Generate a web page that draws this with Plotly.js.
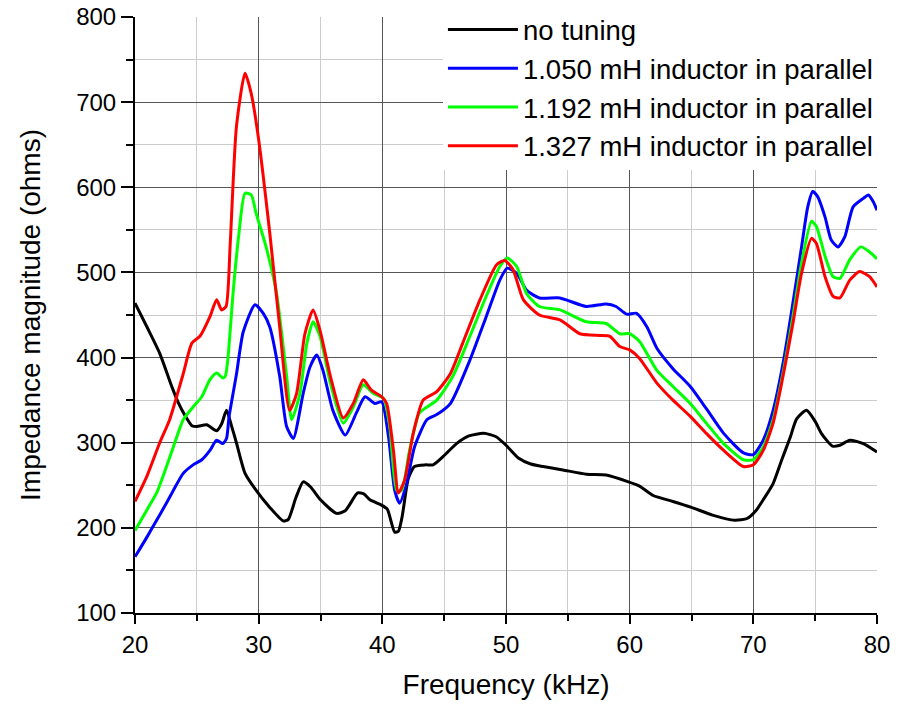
<!DOCTYPE html>
<html>
<head>
<meta charset="utf-8">
<script src="https://cdn.plot.ly/plotly-3.0.1.min.js"></script>
<style>html,body{margin:0;padding:0;background:#fff;}#chart{width:900px;height:708px;}</style>
</head>
<body>
<div id="chart"></div>
<script>
// Frequency (kHz) and impedance magnitude (ohms)
var seriesNames = ["no tuning", "1.050 mH inductor in parallel", "1.192 mH inductor in parallel", "1.327 mH inductor in parallel"];
var seriesColors = ["#000000", "#0000ff", "#00ff00", "#ff0000"];

var freqBlack = [20,21,22,23,23.5,24,24.6,25,25.8,26.6,27.0,27.4,27.8,28.2,28.9,29.8,30.9,32.0,32.4,33.0,33.6,34.2,35.0,36.3,37.0,38.0,38.5,39.0,39.9,40.4,41.0,41.3,41.6,42.1,42.6,43.5,44.1,45.0,46.0,47.0,48.2,49.2,50.0,51.0,52.0,53.0,54.6,56.5,58.1,59.9,60.8,61.9,63.5,65.0,66.7,68.5,69.5,70.2,70.8,71.6,72.3,73.0,73.5,74.3,75.0,75.5,76.4,77.0,77.8,78.9,80];
var zBlack    = [464,435,405,365,347,333,320,319,321,314,322,338,320,300,264,244,224,208,210,235,254,248,233,217,220,241,240,233,227,222,195,196,213,258,272,274,274,285,299,308,311,307,297,282,275,272,268,263,262,254,249,238,231,224,215,209,211,220,233,252,280,307,328,338,325,311,296,297,303,299,289];

var freqBlue = [20,21,21.75,22.5,23.1,23.9,24.7,25.4,26.06,26.6,27.1,27.4,27.6,28.2,28.75,29.7,30.37,30.9,31.7,32.26,32.8,33.6,34.15,34.7,35.2,36.0,37.0,37.9,38.6,39.4,39.95,40.5,41.0,41.4,41.96,42.6,43.6,44.4,45.5,47.08,48.4,49.5,50.1,50.86,51.67,52.7,54.36,56.5,58.1,58.9,59.75,60.56,61.4,62.2,63.5,64.9,66.2,67.6,69.2,70.0,70.8,71.6,72.4,73.2,73.9,74.4,74.8,75.2,75.8,76.3,76.85,77.4,78.07,78.9,79.3,79.7,80];
var zBlue    = [166,190,209,228,244,264,274,280,291,303,299,305,330,380,430,462,452,436,378,319,305,358,389,403,385,338,309,335,354,346,348,307,244,229,252,295,327,333,346,397,448,491,505,499,479,470,470,460,463,460,451,452,436,411,387,366,340,311,288,286,303,338,393,464,530,577,595,589,565,538,530,542,577,587,591,583,573];

var freqGreen = [20,21,21.75,22.5,23.1,23.9,24.7,25.4,26.06,26.6,27.1,27.3,27.5,27.95,28.4,28.9,29.4,29.8,30.6,31.45,32.26,32.67,33.34,33.9,34.4,34.96,35.8,36.84,37.65,38.46,39.26,40.1,40.6,41.16,41.56,42.2,43.0,44.4,45.7,47.08,48.4,49.5,50.1,50.86,51.67,52.7,54.36,56.5,58.1,59.2,60.0,60.8,62.2,63.5,64.9,66.2,67.6,69.2,70.0,70.8,71.6,72.4,73.2,73.9,74.7,75.1,75.8,76.45,77.0,77.8,78.7,79.4,80];
var zGreen    = [197,222,241,270,295,327,342,354,374,382,376,378,397,479,545,593,591,569,530,475,378,327,358,417,442,425,370,323,342,368,358,352,319,244,244,291,335,350,378,425,472,507,517,507,475,460,456,442,440,428,428,419,385,366,346,323,299,280,280,295,327,382,448,511,560,554,519,495,493,515,530,524,516];

var freqRed = [20,21,22,22.8,23.9,24.6,25.25,26.06,26.6,27.0,27.36,27.7,28.2,28.9,29.4,29.97,30.9,31.7,32.5,33.07,33.74,34.4,34.96,35.8,36.84,37.65,38.46,39.1,39.95,40.35,40.9,41.3,41.8,42.5,43.3,44.4,45.5,46.5,47.9,49.24,49.9,50.58,51.4,52.7,54.4,55.97,57.6,58.4,59.2,60.0,60.8,62.2,63.5,64.9,66.2,67.6,69.2,70.0,70.8,71.6,72.4,73.2,73.9,74.7,75.1,75.8,76.45,77.0,77.8,78.6,79.4,80];
var zRed    = [231,262,300,327,381,417,425,448,468,456,460,534,671,734,710,659,546,436,338,358,428,456,432,378,329,346,374,362,354,346,291,241,256,311,350,360,381,417,468,509,514,503,468,450,444,428,426,425,413,409,399,370,350,331,311,291,272,274,291,323,378,440,499,540,534,495,472,470,491,501,495,483];

var xTickVals = [20,30,40,50,60,70,80];
var yTickVals = [100,200,300,400,500,600,700,800];

var freqs = [freqBlack, freqBlue, freqGreen, freqRed];
var zs = [zBlack, zBlue, zGreen, zRed];

var traces = [];
for (var i = 0; i < 4; i++) {
  traces.push({
    x: freqs[i], y: zs[i], type: 'scatter', mode: 'lines', name: seriesNames[i],
    line: {color: seriesColors[i], width: 3, shape: 'spline', smoothing: 0.6}
  });
}

var FONT = 'Liberation Sans, Arial, sans-serif';
var layout = {
  width: 900, height: 708,
  margin: {l: 135, r: 23, t: 17, b: 95, pad: 0, autoexpand: false},
  paper_bgcolor: '#ffffff', plot_bgcolor: '#ffffff',
  font: {family: FONT, color: '#000000', size: 24},
  showlegend: true,
  legend: {
    x: 0.415, y: 1.02, xanchor: 'left', yanchor: 'top',
    bgcolor: '#ffffff', borderwidth: 0,
    font: {family: FONT, size: 27.5, color: '#000000'},
    itemwidth: 70, tracegroupgap: 0
  },
  xaxis: {
    range: [20, 80], tickmode: 'array', tickvals: xTickVals, automargin: false,
    showline: true, linecolor: '#000000', linewidth: 2,
    ticks: 'outside', ticklen: 9, tickwidth: 2, tickcolor: '#000000',
    showgrid: true, gridcolor: '#555555', gridwidth: 1, zeroline: false,
    tickfont: {family: FONT, size: 24, color: '#000000'},
    minor: {dtick: 5, tick0: 0, ticks: 'outside', ticklen: 6, tickwidth: 2, tickcolor: '#000000', showgrid: true, gridcolor: '#cccccc', gridwidth: 1},
    title: {text: 'Frequency (kHz)', font: {family: FONT, size: 28, color: '#000000'}, standoff: 18}
  },
  yaxis: {
    range: [100, 800], tickmode: 'array', tickvals: yTickVals, automargin: false,
    showline: true, linecolor: '#000000', linewidth: 2,
    ticks: 'outside', ticklen: 12, tickwidth: 2, tickcolor: '#000000',
    showgrid: true, gridcolor: '#555555', gridwidth: 1, zeroline: false,
    tickfont: {family: FONT, size: 24, color: '#000000'},
    minor: {dtick: 50, tick0: 0, ticks: 'outside', ticklen: 7, tickwidth: 2, tickcolor: '#000000', showgrid: true, gridcolor: '#cccccc', gridwidth: 1},
    title: {text: 'Impedance magnitude (ohms)', font: {family: FONT, size: 28, color: '#000000'}, standoff: 27}
  }
};

Plotly.newPlot('chart', traces, layout, {displayModeBar: false, staticPlot: true});
</script>
</body>
</html>
